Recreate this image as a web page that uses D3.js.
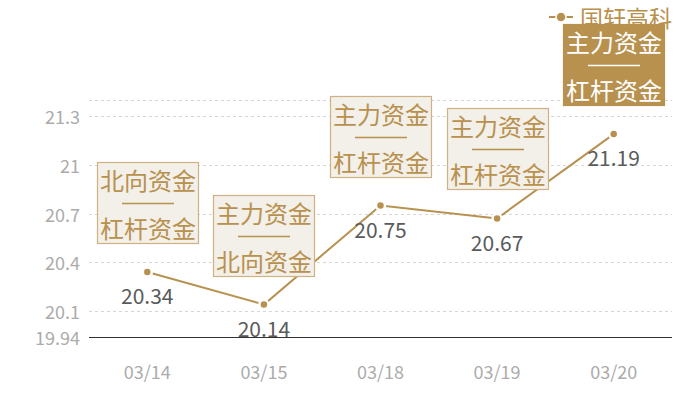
<!DOCTYPE html>
<html>
<head>
<meta charset="utf-8">
<script src="https://cdn.jsdelivr.net/npm/d3@7"></script>
<style>
  body { margin: 0; background: #fff; }
  text { font-family: "Noto Sans CJK SC", "Noto Sans", sans-serif; }
</style>
</head>
<body>
<div id="chart"></div>
<script>
var categories = ["03/14", "03/15", "03/18", "03/19", "03/20"];
var prices = [20.34, 20.14, 20.75, 20.67, 21.19];
var boxTop = ["北向资金", "主力资金", "主力资金", "主力资金", "主力资金"];
var boxBottom = ["杠杆资金", "北向资金", "杠杆资金", "杠杆资金", "杠杆资金"];
var boxFilled = [false, false, false, false, true];
var yTicks = [19.94, 20.1, 20.4, 20.7, 21, 21.3];
var yMax = 21.4;
var seriesName = "国轩高科";

var gold = "#b8914f";

var width = 700, height = 400;
var svg = d3.select("#chart").append("svg")
  .attr("width", width)
  .attr("height", height);

var x = d3.scaleBand().domain(categories).range([89, 672]);
var y = d3.scaleLinear().domain([yTicks[0], yMax]).range([337, 100]);
var cx = function(d) { return x(d) + x.bandwidth() / 2; };

// grid lines (dashed), top line has no label
var gridVals = yTicks.slice(1).concat([yMax]);
svg.selectAll(".grid")
  .data(gridVals)
  .enter()
  .append("line")
  .attr("x1", 89)
  .attr("x2", 672)
  .attr("y1", function(d) { return Math.round(y(d)) + 0.5; })
  .attr("y2", function(d) { return Math.round(y(d)) + 0.5; })
  .attr("stroke", "#d6d6d6")
  .attr("stroke-dasharray", "3,3");

// y labels
svg.selectAll(".ylab")
  .data(yTicks)
  .enter()
  .append("text")
  .attr("x", 80)
  .attr("y", function(d) { return y(d); })
  .attr("text-anchor", "end")
  .attr("dominant-baseline", "central")
  .style("font-size", "18px")
  .style("fill", "#ababab")
  .text(function(d) { return d; });

// x axis line
svg.append("line")
  .attr("x1", 89).attr("x2", 672)
  .attr("y1", Math.round(y(yTicks[0])) + 0.5).attr("y2", Math.round(y(yTicks[0])) + 0.5)
  .attr("stroke", "#333")
  .attr("stroke-width", 1);

svg.selectAll(".xlab")
  .data(categories)
  .enter()
  .append("text")
  .attr("x", cx)
  .attr("y", 371)
  .attr("text-anchor", "middle")
  .attr("dominant-baseline", "central")
  .style("font-size", "18px")
  .style("fill", "#ababab")
  .text(function(d) { return d; });

// line
var line = d3.line()
  .x(function(d, i) { return cx(categories[i]); })
  .y(function(d) { return y(d); });

svg.append("path")
  .datum(prices)
  .attr("d", line)
  .attr("fill", "none")
  .attr("stroke", gold)
  .attr("stroke-width", 2);

svg.selectAll(".pt")
  .data(prices)
  .enter()
  .append("circle")
  .attr("cx", function(d, i) { return cx(categories[i]); })
  .attr("cy", function(d) { return y(d); })
  .attr("r", 4.5)
  .attr("fill", gold)
  .attr("stroke", "#fff")
  .attr("stroke-width", 2.5);

// value labels
svg.selectAll(".val")
  .data(prices)
  .enter()
  .append("text")
  .attr("x", function(d, i) { return cx(categories[i]); })
  .attr("y", function(d) { return y(d) + 23; })
  .attr("text-anchor", "middle")
  .attr("dominant-baseline", "central")
  .style("font-size", "21px")
  .style("fill", "#5a5a5a")
  .text(function(d) { return d; });

// legend
var lg = svg.append("g");
lg.append("line")
  .attr("x1", 549).attr("x2", 573).attr("y1", 17).attr("y2", 17)
  .attr("stroke", gold).attr("stroke-width", 2);
lg.append("circle")
  .attr("cx", 561).attr("cy", 17).attr("r", 5)
  .attr("fill", gold).attr("stroke", "#fff").attr("stroke-width", 1.5);
lg.append("text")
  .attr("x", 580).attr("y", 17)
  .attr("dominant-baseline", "central")
  .style("font-size", "23px")
  .style("fill", gold)
  .text(seriesName);

// annotation boxes, 30px above each point
var boxW = 101, boxH = 81;
var boxes = svg.selectAll(".box")
  .data(prices)
  .enter()
  .append("g")
  .attr("transform", function(d, i) {
    return "translate(" + (Math.round(cx(categories[i]) - boxW / 2)) + "," + Math.round(y(d) - 29 - boxH) + ")";
  });

boxes.append("rect")
  .attr("x", 0.5).attr("y", 0.5)
  .attr("width", boxW).attr("height", boxH)
  .attr("fill", function(d, i) { return boxFilled[i] ? gold : "#f3efe9"; })
  .attr("stroke", function(d, i) { return boxFilled[i] ? gold : "#cfb283"; })
  .attr("stroke-width", 1.2);

boxes.append("text")
  .attr("x", boxW / 2 + 0.5).attr("y", 17)
  .attr("text-anchor", "middle")
  .attr("dominant-baseline", "central")
  .style("font-size", "24px")
  .style("fill", function(d, i) { return boxFilled[i] ? "#fff" : gold; })
  .text(function(d, i) { return boxTop[i]; });

boxes.append("line")
  .attr("x1", boxW / 2 - 25.5).attr("x2", boxW / 2 + 26.5)
  .attr("y1", 41.5).attr("y2", 41.5)
  .attr("stroke", function(d, i) { return boxFilled[i] ? "#fff" : gold; })
  .attr("stroke-width", 1.5);

boxes.append("text")
  .attr("x", boxW / 2 + 0.5).attr("y", 65)
  .attr("text-anchor", "middle")
  .attr("dominant-baseline", "central")
  .style("font-size", "24px")
  .style("fill", function(d, i) { return boxFilled[i] ? "#fff" : gold; })
  .text(function(d, i) { return boxBottom[i]; });
</script>
</body>
</html>
